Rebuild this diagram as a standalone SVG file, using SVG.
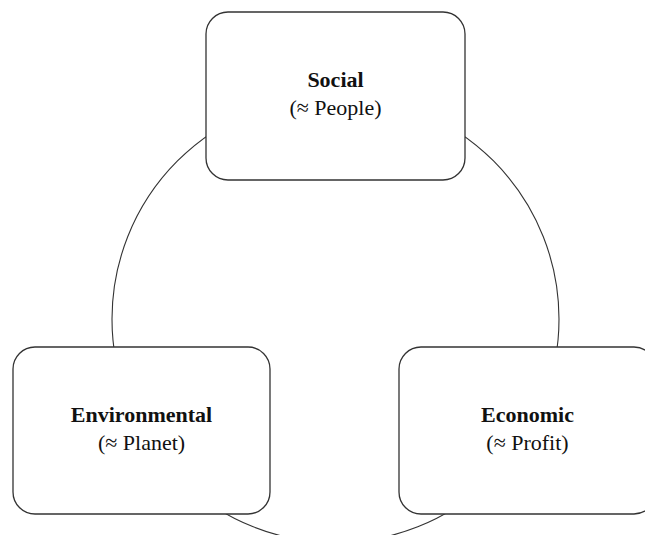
<svg xmlns="http://www.w3.org/2000/svg" width="645" height="535" viewBox="0 0 645 535">
  <style>
    .ring { fill: none; stroke: #333; stroke-width: 1.1; }
    .box { fill: #fff; stroke: #333; stroke-width: 1.3; }
    .title { font-family: "Liberation Serif", "Times New Roman", serif; font-size: 22px; font-weight: bold; fill: #111; text-anchor: middle; }
    .sub { font-family: "Liberation Serif", "Times New Roman", serif; font-size: 22px; fill: #111; text-anchor: middle; }
  </style>
  <rect width="645" height="535" fill="#fff"/>
  <!-- connecting ring behind the three pillars -->
  <g id="connectors">
    <circle class="ring" cx="335.5" cy="319" r="223.5"/>
  </g>
  <g id="social">
    <rect class="box" x="206" y="12" width="259" height="168" rx="22" ry="22"/>
    <text class="title" x="335.5" y="87">Social</text>
    <text class="sub" x="335.5" y="115">(≈ People)</text>
  </g>
  <g id="environmental">
    <rect class="box" x="13" y="347" width="257" height="167" rx="22" ry="22"/>
    <text class="title" x="141.5" y="421.5">Environmental</text>
    <text class="sub" x="141.5" y="450">(≈ Planet)</text>
  </g>
  <g id="economic">
    <rect class="box" x="399" y="347" width="257" height="167" rx="22" ry="22"/>
    <text class="title" x="527.5" y="421.5">Economic</text>
    <text class="sub" x="527.5" y="450">(≈ Profit)</text>
  </g>
</svg>
